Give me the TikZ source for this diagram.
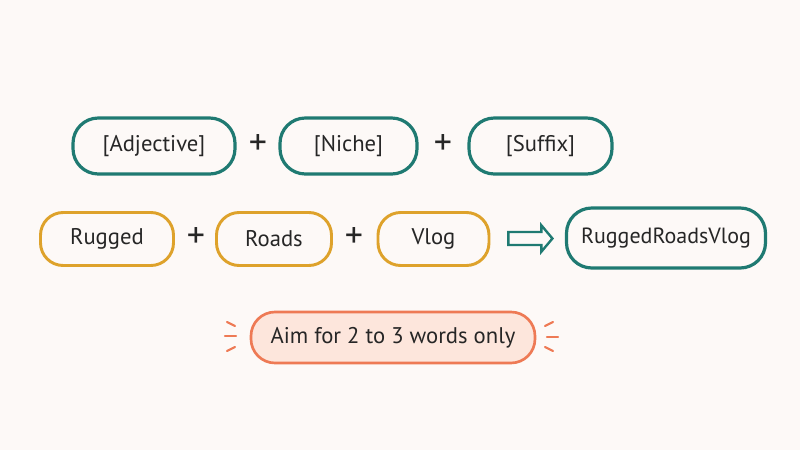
\documentclass[tikz,border=0pt]{standalone}
\usepackage{fontspec}
\setmainfont{PT Sans}
\usetikzlibrary{shapes.arrows,calc}
\definecolor{bg}{HTML}{FDF9F7}
\definecolor{teal1}{HTML}{1F7A72}
\definecolor{gold1}{HTML}{DEA22B}
\definecolor{coral}{HTML}{EE7A55}
\definecolor{peach}{HTML}{FDE6DC}
\definecolor{ink}{HTML}{262626}
\tikzset{
  lbl/.style={text=ink, font=\fontsize{17}{19}\selectfont},
  tbox/.style={lbl, draw=teal1, line width=2.4pt, rounded corners=19pt, inner sep=0pt},
  gbox/.style={lbl, draw=gold1, line width=2.2pt, rounded corners=17pt, inner sep=0pt},
  plus/.style={text=ink, font=\fontsize{27}{29}\selectfont, inner sep=0pt},
  spark/.style={draw=coral, line width=1.6pt, line cap=round}
}
\begin{document}
\begin{tikzpicture}[x=0.75pt,y=-0.75pt]
\fill[bg] (0,0) rectangle (800,450);
\useasboundingbox (0,0) rectangle (800,450);
% row 1
\node[tbox, minimum width=121.5pt, minimum height=42pt] (adj) at (154,146) {[Adjective]};
\node[plus] (p1) at (258,145) {+};
\node[tbox, minimum width=102.75pt, minimum height=42pt] (niche) at (348.5,146) {[Niche]};
\node[plus] (p2) at (443,145) {+};
\node[tbox, minimum width=107.25pt, minimum height=42pt] (suf) at (540.5,146) {[Suffix]};
% row 2
\node[gbox, minimum width=99.75pt, minimum height=39.75pt] (rug) at (107,239) {Rugged};
\node[plus] (p3) at (196,238) {+};
\node[gbox, minimum width=86.25pt, minimum height=39.75pt] (roads) at (274,239) {Roads};
\node[plus] (p4) at (354,238) {+};
\node[gbox, minimum width=83.25pt, minimum height=39.75pt] (vlog) at (433.5,239) {Vlog};
\node[tbox, minimum width=149.25pt, minimum height=45pt] (res) at (666,238) {\fontsize{16.5}{19}\selectfont RuggedRoadsVlog};
\coordinate (amid) at ($(vlog.east)!0.5!(res.west)$);
\node[single arrow, draw=teal1, line width=1.8pt, fill=bg, minimum height=33pt, minimum width=18pt,
      inner sep=4pt, single arrow head extend=5pt, single arrow tip angle=100] (arr) at (amid) {};
% row 3
\node[lbl, draw=coral, fill=peach, line width=2pt, rounded corners=18pt, inner sep=0pt,
      minimum width=213pt, minimum height=38.25pt] (aim) at (393,337.5) {Aim for 2 to 3 words only};
\draw[spark] (227,322) -- (235,326);
\draw[spark] (225,336) -- (236,336);
\draw[spark] (227,351) -- (235,347);
\draw[spark] (553,322) -- (545,326);
\draw[spark] (547,337) -- (558,337);
\draw[spark] (553,351) -- (545,347);
\end{tikzpicture}
\end{document}
